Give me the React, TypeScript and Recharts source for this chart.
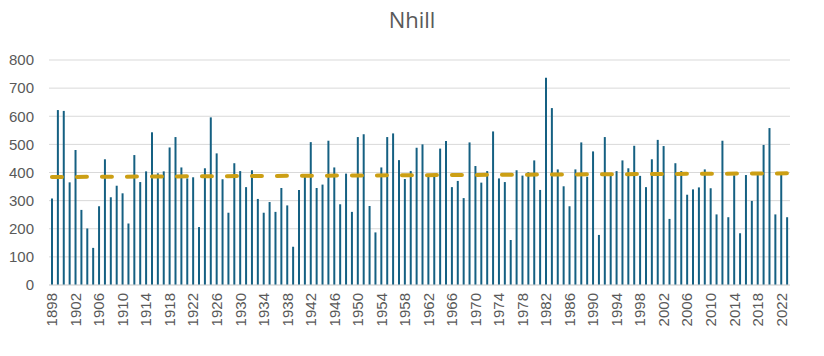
import {
  Bar,
  CartesianGrid,
  ComposedChart,
  Line,
  XAxis,
  YAxis,
} from "recharts";

const FIRST_YEAR = 1898;

// annual rainfall (mm), 1898..2023
const RAINFALL = [
  308, 622, 619, 365, 480, 267, 201, 132, 280, 447,
  312, 353, 326, 219, 462, 366, 404, 543, 397, 404,
  489, 526, 418, 379, 383, 206, 415, 596, 468, 376,
  257, 433, 405, 348, 408, 306, 257, 295, 260, 345,
  283, 136, 338, 385, 508, 345, 357, 513, 418, 287,
  396, 260, 526, 536, 281, 187, 418, 526, 539, 444,
  377, 405, 488, 500, 391, 385, 485, 512, 348, 370,
  309, 507, 423, 364, 405, 546, 379, 366, 160, 408,
  389, 401, 443, 338, 737, 629, 411, 351, 280, 411,
  507, 385, 475, 178, 526, 391, 405, 443, 415, 495,
  388, 348, 447, 516, 494, 235, 433, 405, 321, 340,
  347, 411, 344, 251, 513, 241, 390, 184, 391, 299,
  391, 498, 558, 251, 398, 241,
];

// linear trend, start and end values
const TREND = [384, 397];

const Y_TICKS = [0, 100, 200, 300, 400, 500, 600, 700, 800];

const YEARS = RAINFALL.map((_, i) => FIRST_YEAR + i);

const data = YEARS.map((year, i) => ({
  year,
  rain: RAINFALL[i],
  trend: i === 0 ? TREND[0] : i === YEARS.length - 1 ? TREND[1] : null,
}));

const FONT = "'Liberation Sans', Arial, sans-serif";
const TEXT = "#595959";

function XTick(props: any) {
  const { x, y, payload } = props;
  return (
    <text
      x={x}
      y={y}
      dy="0.36em"
      transform={`rotate(-90, ${x}, ${y})`}
      textAnchor="end"
      fill={TEXT}
      fontSize={15}
      fontFamily={FONT}
    >
      {payload.value}
    </text>
  );
}

function YTick(props: any) {
  const { y, payload } = props;
  return (
    <text
      x={34}
      y={y}
      dy="0.35em"
      textAnchor="end"
      fill={TEXT}
      fontSize={15}
      fontFamily={FONT}
    >
      {payload.value}
    </text>
  );
}

export default function App() {
  return (
    <div
      style={{
        position: "absolute",
        left: 0,
        top: 0,
        width: 824,
        height: 356,
        background: "#fff",
      }}
    >
      <div
        style={{
          position: "absolute",
          left: 0,
          top: 4,
          width: 824,
          textAlign: "center",
          fontFamily: "'Open Sans', sans-serif",
          fontSize: 22,
          color: TEXT,
        }}
      >
        Nhill
      </div>
      <ComposedChart
        width={824}
        height={356}
        data={data}
        margin={{ top: 60, right: 34, bottom: 0, left: 0 }}
        barCategoryGap={0}
      >
        <CartesianGrid vertical={false} stroke="#d9d9d9" />
        <XAxis
          dataKey="year"
          type="category"
          interval={3}
          height={71}
          tick={<XTick />}
          tickLine={false}
          axisLine={{ stroke: "#d9d9d9" }}
        />
        <YAxis
          domain={[0, 800]}
          ticks={Y_TICKS}
          width={49}
          tick={<YTick />}
          tickLine={false}
          axisLine={false}
        />
        <Bar
          dataKey="rain"
          fill="#156082"
          barSize={2}
          isAnimationActive={false}
        />
        <Line
          dataKey="trend"
          stroke="#CC9F14"
          strokeWidth={4}
          strokeDasharray="10 15"
          strokeLinecap="round"
          dot={false}
          connectNulls
          isAnimationActive={false}
        />
      </ComposedChart>
    </div>
  );
}
